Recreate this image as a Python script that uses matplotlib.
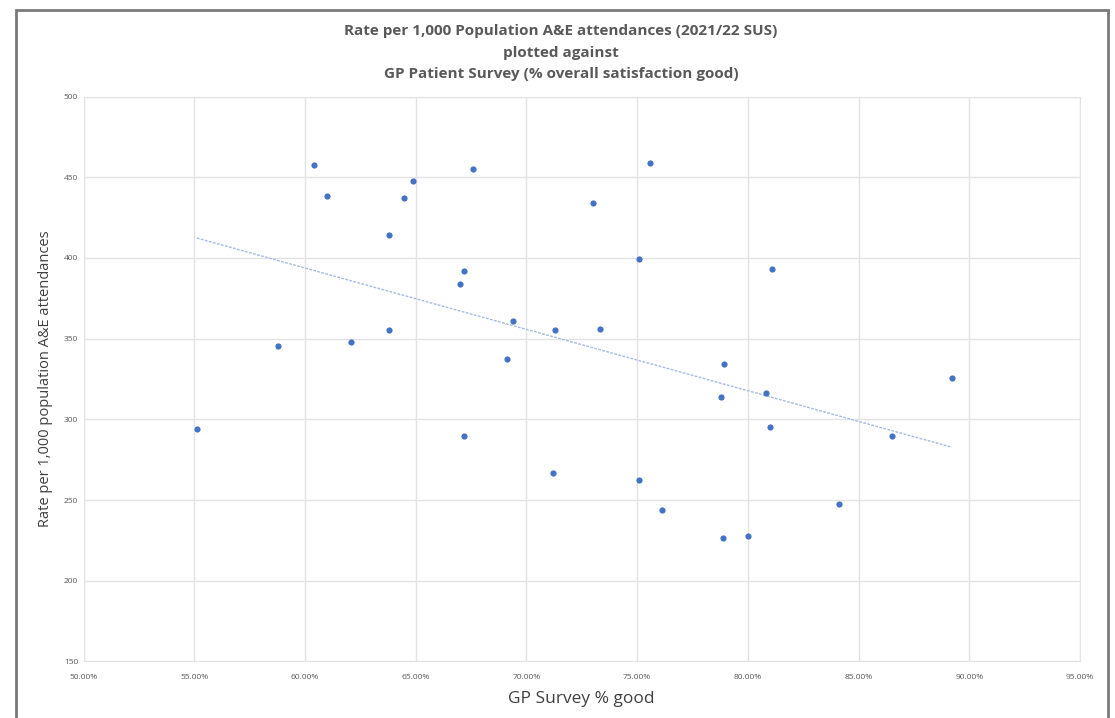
import matplotlib
matplotlib.use('Agg')
from matplotlib import pyplot as plt, ticker
from matplotlib.patches import Rectangle
import numpy as np

# GP survey satisfaction (share good) and A&E rate per 1,000 population
gp_good = [0.6039, 0.6100, 0.6489, 0.6449, 0.6759, 0.6379, 0.6720, 0.6699,
           0.5879, 0.6209, 0.6379, 0.5511, 0.6720,
           0.7560, 0.7301, 0.7510, 0.8111, 0.6939, 0.7131, 0.7331, 0.6911,
           0.7891, 0.7880, 0.8081, 0.8099,
           0.8921, 0.8651, 0.8410, 0.7889, 0.8001,
           0.7121, 0.7510, 0.7611]
ae_rate = [457.8, 438.6, 447.7, 437.4, 455.1, 414.1, 391.9, 384.1,
           345.7, 348.1, 355.4, 294.2, 289.9,
           458.7, 433.9, 399.6, 393.0, 360.8, 355.6, 356.0, 337.4,
           334.5, 313.9, 316.5, 295.3,
           325.6, 289.6, 247.6, 226.5, 227.8,
           266.6, 262.3, 244.0]

x = np.array(gp_good)
y = np.array(ae_rate)

grey = '#595959'
dark = '#404040'
blue = '#4472C4'

plt.rcParams['font.family'] = ['Open Sans', 'DejaVu Sans']

fig = plt.figure(figsize=(11.15, 7.18), dpi=100)
ax = fig.add_axes([0.075, 0.0787, 0.8936, 0.7868])

ax.scatter(x, y, s=20, color=blue, zorder=3, linewidths=0)

# linear trendline over the data range
k, b = np.polyfit(x, y, 1)
xt = np.array([x.min(), x.max()])
ax.plot(xt, k * xt + b, color='#a4bbe6', lw=1, linestyle=(0, (2, 1)), zorder=2)

ax.set_xlim(0.50, 0.95)
ax.set_ylim(150, 500)
ax.xaxis.set_major_locator(ticker.MultipleLocator(0.05))
ax.yaxis.set_major_locator(ticker.MultipleLocator(50))
ax.xaxis.set_major_formatter(ticker.PercentFormatter(1, decimals=2))
ax.grid(True, color='#e3e3e3', lw=1)
ax.set_axisbelow(True)
for s in ax.spines.values():
    s.set_color('#e3e3e3')
ax.tick_params(length=0, labelsize=6, colors=grey, pad=4)
ax.tick_params(axis='x', pad=9)

ax.set_xlabel('GP Survey % good', fontsize=12.5, color=dark, labelpad=7)
ax.set_ylabel('Rate per 1,000 population A&E attendances', fontsize=10.5,
              color=dark, labelpad=8)

fig.text(0.503, 0.966, 'Rate per 1,000 Population A&E attendances (2021/22 SUS)\n'
         'plotted against\nGP Patient Survey (% overall satisfaction good)',
         ha='center', va='top', fontsize=11, fontweight='bold', color=grey,
         linespacing=1.65)

# outer frame around the chart
fig.patches.append(Rectangle((16 / 1115, -0.05), 1092 / 1115, 1.05 - 10 / 718,
                             transform=fig.transFigure, fill=False,
                             edgecolor='#7a7a7a', lw=2))

fig.savefig('out.png', dpi=100)
